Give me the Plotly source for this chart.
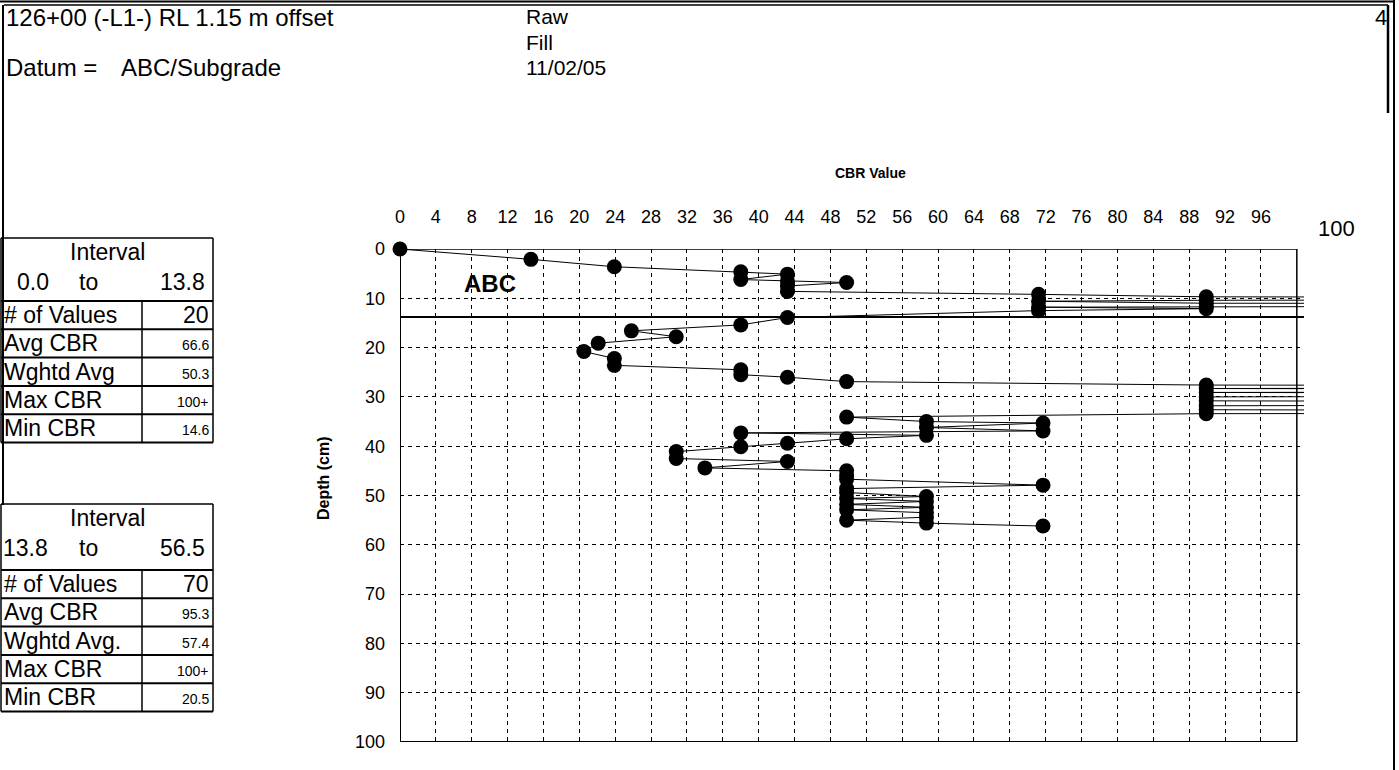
import plotly.graph_objects as go

# ---------------- data ----------------
# CBR value per blow (values > 100 are off-chart "100+" readings)
cbr = [0, 14.6, 23.9, 38.0, 43.2, 38.0, 43.2, 49.8, 43.2, 43.2, 71.2, 89.9, 250, 89.9, 71.2,
       89.9, 250, 89.9, 71.2, 89.9, 71.2,
       43.2, 38.0, 25.8, 30.8, 22.1, 20.5, 23.9, 23.9, 38.0, 38.0, 43.2, 49.8, 89.9, 250, 89.9,
       250, 89.9, 250, 89.9, 89.9, 250, 89.9, 89.9, 250, 89.9, 49.8, 58.7, 71.7, 58.7, 71.7,
       38.0, 58.7, 49.8, 43.2, 38.0, 30.8, 30.8, 43.2, 34.0, 49.8, 49.8, 49.8, 71.7, 49.8, 49.8,
       58.7, 49.8, 58.7, 49.8, 58.7, 49.8, 58.7, 58.7, 49.8, 58.7, 71.7]
depth = [0, 2.1, 3.6, 4.6, 5.1, 6.2, 6.5, 6.8, 7.5, 8.6, 9.2, 9.7, 10.1, 10.4, 10.6,
         11.0, 11.2, 11.6, 11.8, 12.1, 12.5,
         13.9, 15.4, 16.6, 17.8, 19.1, 20.8, 22.2, 23.6, 24.5, 25.5, 26.0, 26.9, 27.6, 27.9, 28.3,
         28.7, 29.1, 29.5, 30.0, 30.8, 31.3, 31.8, 32.6, 33.2, 33.4, 34.1, 35.0, 35.3, 36.2, 36.9,
         37.3, 37.8, 38.5, 39.4, 40.1, 41.1, 42.5, 43.1, 44.4, 45.0, 46.0, 46.7, 47.9, 48.6, 49.4,
         50.2, 50.6, 51.2, 51.8, 52.4, 52.9, 53.5, 54.4, 55.0, 55.6, 56.2]
layer_boundary = 13.8

x_tick_vals = list(range(0, 100, 4))
x_tick_text = [str(v) for v in x_tick_vals]
y_tick_vals = list(range(0, 101, 10))
y_tick_text = [str(v) for v in y_tick_vals]

header_line1 = "126+00 (-L1-) RL 1.15 m offset"
header_datum_label = "Datum ="
header_datum = "ABC/Subgrade"
header_right = ["Raw", "Fill", "11/02/05"]
page_no = "4"

t1_interval = ["0.0", "to", "13.8"]
t1_labels = ["# of Values", "Avg CBR", "Wghtd Avg", "Max CBR", "Min CBR"]
t1_values = ["20", "66.6", "50.3", "100+", "14.6"]
t2_interval = ["13.8", "to", "56.5"]
t2_labels = ["# of Values", "Avg CBR", "Wghtd Avg.", "Max CBR", "Min CBR"]
t2_values = ["70", "95.3", "57.4", "100+", "20.5"]

# ---------------- layout geometry ----------------
W, H = 1399, 770
L, R, T, B = 400, 95, 249, 28
PW, PH = W - L - R, H - T - B
FONT = "Liberation Sans, Arial, sans-serif"


def px(x):
    return (x - L) / PW


def py(y):
    return 1 - (y - T) / PH


fig = go.Figure()
fig.add_trace(go.Scatter(
    x=cbr, y=depth, mode="lines+markers",
    line=dict(color="black", width=1),
    marker=dict(color="black", size=15),
    cliponaxis=False,
    hoverinfo="x+y", showlegend=False,
))

shapes = []
annotations = []


def line(x0, y0, x1, y1, w=1.5):
    shapes.append(dict(type="line", xref="paper", yref="paper",
                       x0=px(x0), y0=py(y0), x1=px(x1), y1=py(y1),
                       line=dict(color="black", width=w)))


def text(x, y, s, size=20, xanchor="left", bold=False, angle=0):
    annotations.append(dict(xref="paper", yref="paper", x=px(x), y=py(y),
                            text=f"<b>{s}</b>" if bold else s, showarrow=False,
                            xanchor=xanchor, yanchor="middle", textangle=angle,
                            borderpad=0,
                            font=dict(family=FONT, size=size, color="black")))


# plot frame and layer boundary (data coords)
shapes.append(dict(type="rect", xref="x", yref="y", x0=0, x1=100, y0=0, y1=100,
                   line=dict(color="black", width=1.5), layer="below"))
shapes.append(dict(type="line", xref="x", yref="y", x0=0, x1=100, y0=100, y1=100,
                   line=dict(color="black", width=2)))
shapes.append(dict(type="line", xref="x", yref="y", x0=0, x1=0, y0=0, y1=100,
                   line=dict(color="black", width=2), layer="below"))
shapes.append(dict(type="line", xref="x", yref="y", x0=0, x1=100.8,
                   y0=layer_boundary, y1=layer_boundary,
                   line=dict(color="black", width=2)))

# page border
line(0, 1.5, 1394, 1.5, 2)
line(4, 5, 1388, 5, 1.5)
line(1394, 0, 1394, 770, 2)
line(1388, 5, 1388, 113, 2.5)
line(3, 5, 3, 505, 2)

# header text
text(5, 18, header_line1, 24)
text(5, 67, header_datum_label, 24)
text(120, 67, header_datum, 24)
for i, s in enumerate(header_right):
    text(525, 17 + i * 25, s, 21)
text(1388, 18, page_no, 22, xanchor="right")

# axis titles / labels
text(870, 173, "CBR Value", 14, xanchor="center", bold=True)
text(323, 478, "Depth (cm)", 16, xanchor="center", bold=True, angle=-90)
text(1336, 228, "100", 22, xanchor="center")
text(490, 283, "ABC", 24, xanchor="center", bold=True)


def table(top, head_h, interval, labels, values):
    x0, xd, x1 = 1, 142, 213
    hb = top + head_h
    rh = 28.3
    bottom = hb + rh * len(labels)
    line(x0, top, x1, top)
    line(x1, top, x1, bottom)
    line(x0, top, x0, bottom)
    line(x0, hb, x1, hb, 2)
    line(xd, hb, xd, bottom)
    text(107, top + 14, "Interval", 23, xanchor="center")
    text(16 if interval[0] == "0.0" else 2, top + 44, interval[0], 23)
    text(88, top + 44, interval[1], 23, xanchor="center")
    text(206, top + 44, interval[2], 23, xanchor="right")
    for i, (lab, val) in enumerate(zip(labels, values)):
        yc = hb + rh * (i + 0.5)
        if i > 0:
            line(x0, hb + rh * i, x1, hb + rh * i, 2)
        text(3, yc, lab, 23)
        text(210, yc + (0 if i == 0 else 2), val, 23 if i == 0 else 14, xanchor="right")
    line(x0, bottom, x1, bottom, 2)


table(238, 63, t1_interval, t1_labels, t1_values)
table(504, 66, t2_interval, t2_labels, t2_values)

axis_common = dict(showgrid=True, gridcolor="black", gridwidth=1, griddash="4px,4px",
                   zeroline=False, showline=False, ticks="",
                   tickfont=dict(family=FONT, size=18, color="black"))
fig.update_layout(
    width=W, height=H,
    margin=dict(l=L, r=R, t=T, b=B, autoexpand=False),
    plot_bgcolor="white", paper_bgcolor="white",
    showlegend=False,
    xaxis=dict(range=[0, 100.8], side="top", tickmode="array", tickvals=x_tick_vals,
               ticktext=x_tick_text, ticklabelstandoff=21, **axis_common),
    yaxis=dict(range=[100, 0], tickmode="array", tickvals=y_tick_vals,
               ticktext=y_tick_text, ticklabelstandoff=14, **axis_common),
    shapes=shapes,
    annotations=annotations,
)

fig.write_html("out.html")
